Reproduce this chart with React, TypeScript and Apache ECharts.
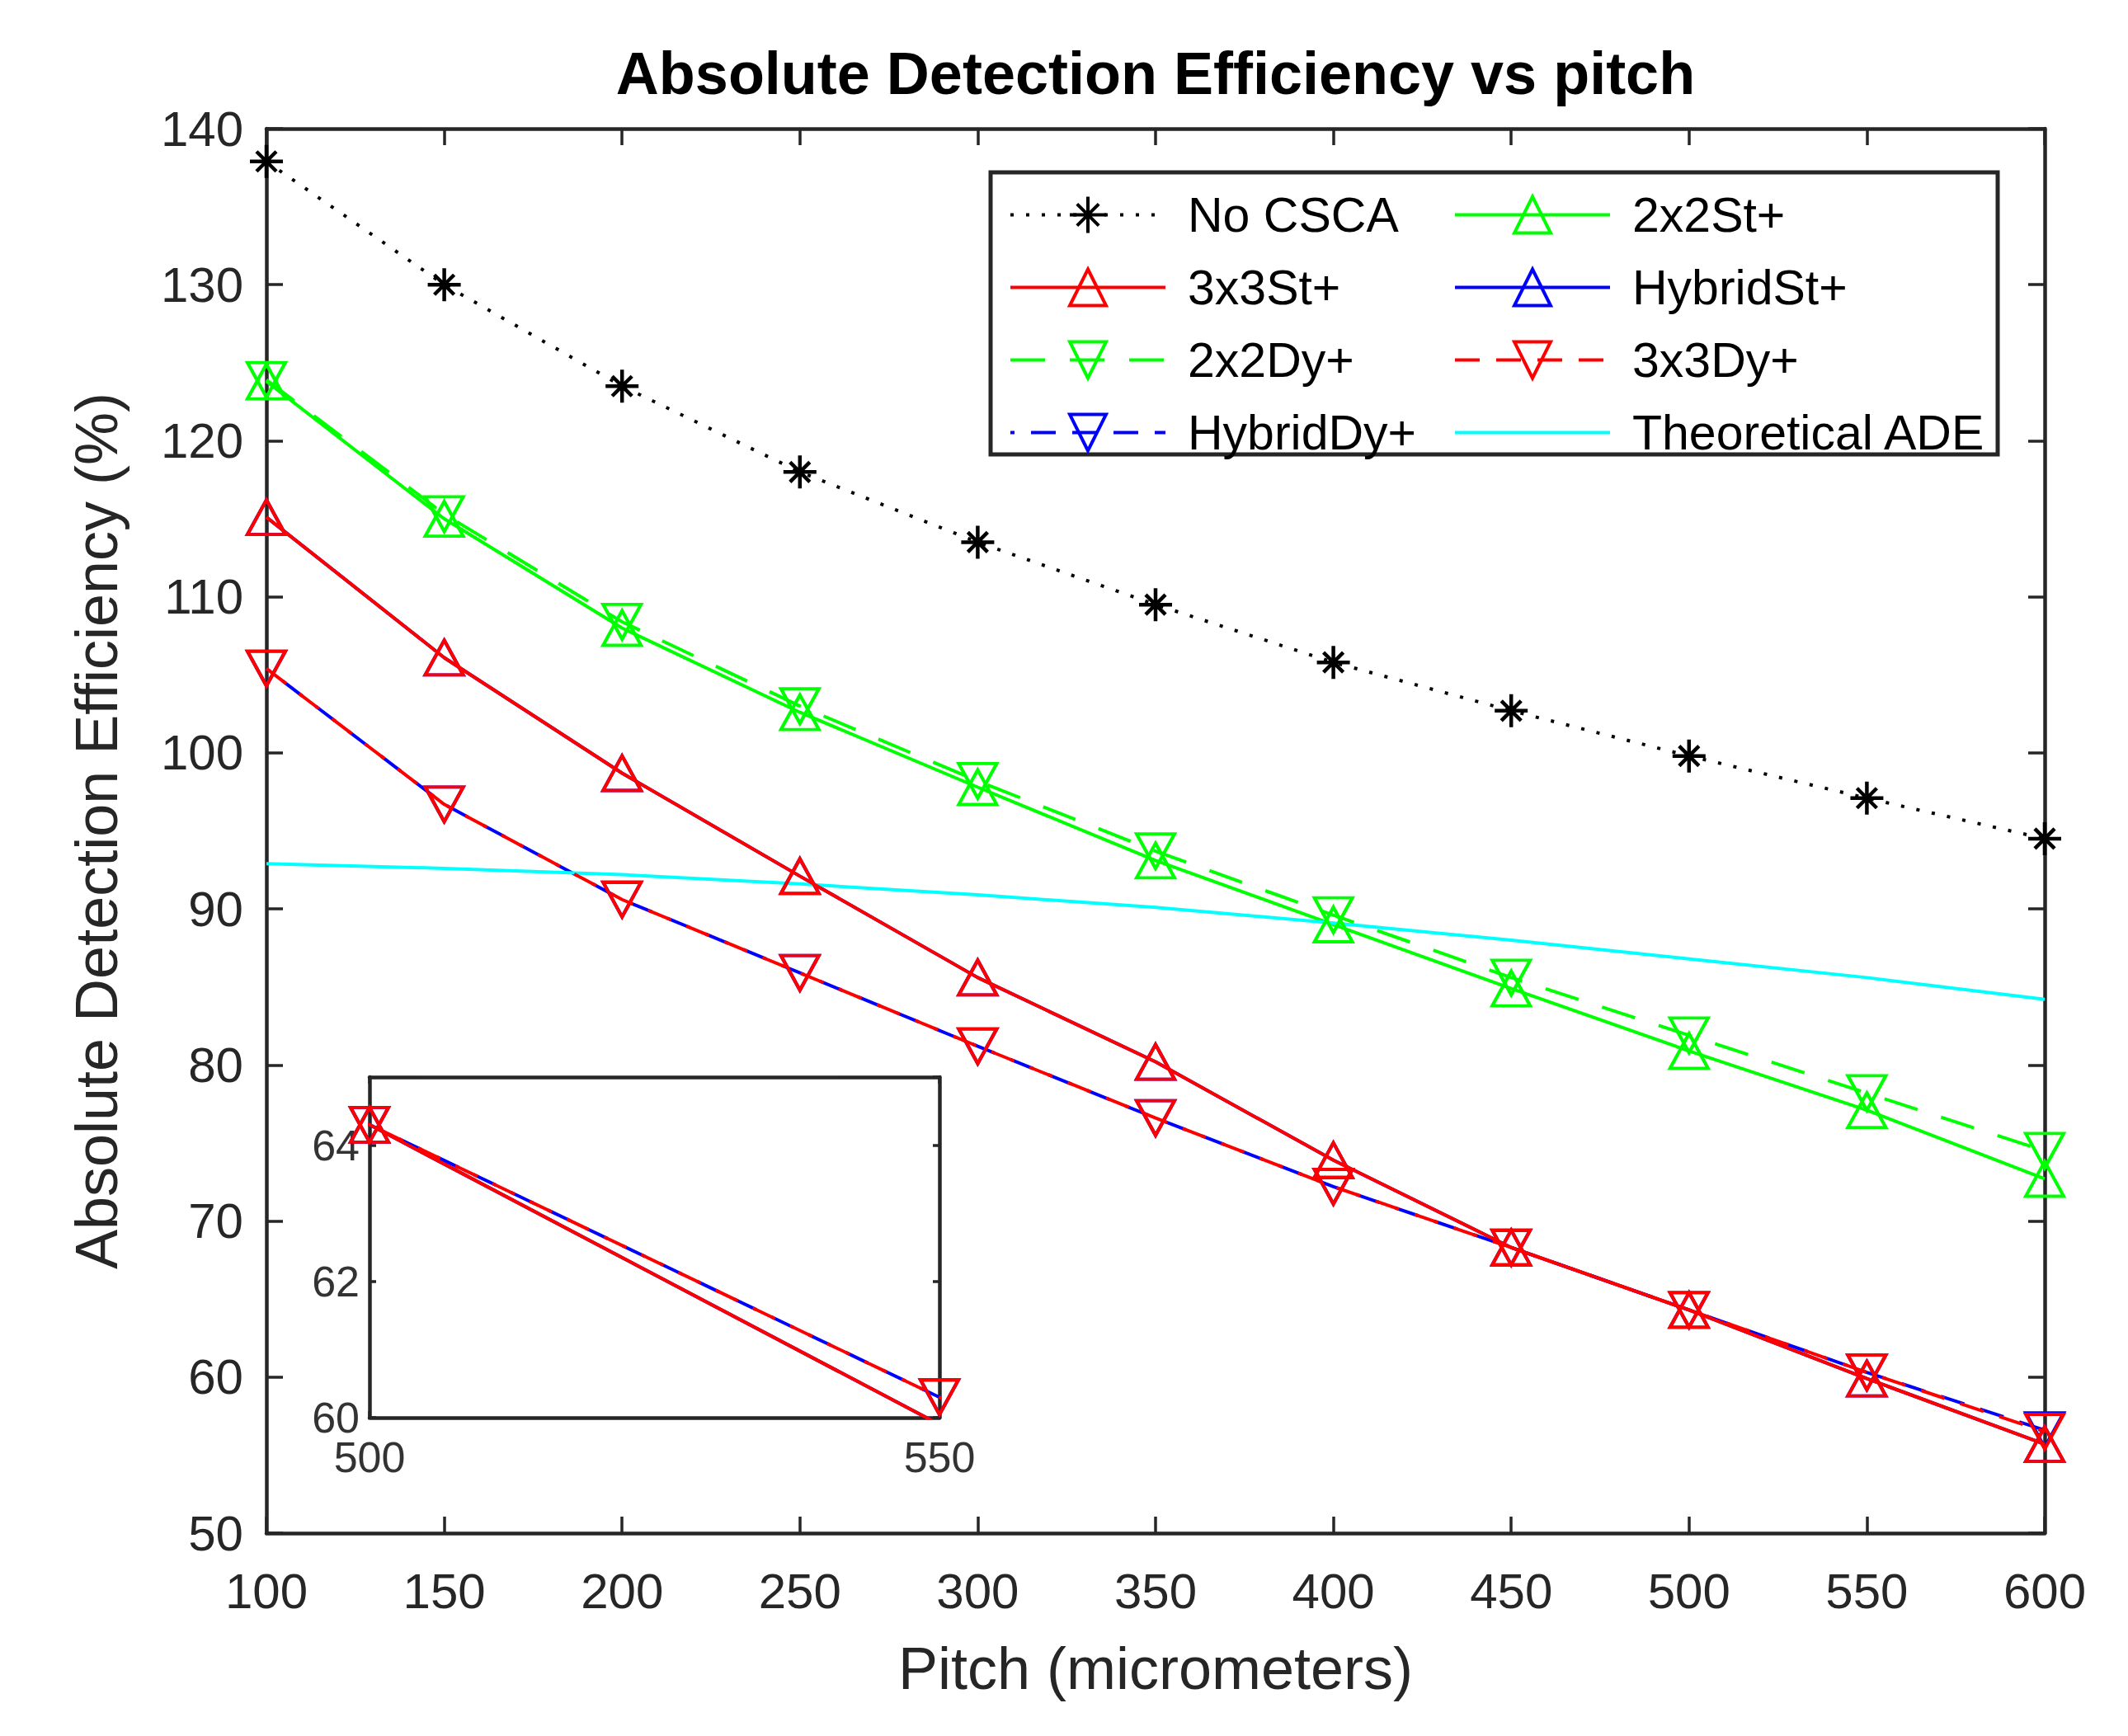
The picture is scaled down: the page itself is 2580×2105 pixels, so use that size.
import { useEffect, useRef } from 'react';
import * as echarts from 'echarts';

// pitch in micrometers
const pitch = [100, 150, 200, 250, 300, 350, 400, 450, 500, 550, 600];

// absolute detection efficiency (%)
const noCsca = [137.9, 130.0, 123.5, 118.0, 113.5, 109.5, 105.8, 102.7, 99.8, 97.1, 94.5];
const st2x2 = [123.8, 115.0, 108.0, 102.6, 97.8, 93.1, 89.0, 84.9, 80.9, 77.1, 72.7];
const st3x3 = [115.1, 106.1, 98.7, 92.1, 85.6, 80.2, 73.9, 68.3, 64.3, 59.9, 55.7];
const stHybrid = [115.1, 106.1, 98.7, 92.1, 85.6, 80.2, 73.9, 68.3, 64.3, 59.9, 55.7];
const dy2x2 = [123.9, 115.3, 108.4, 103.0, 98.2, 93.7, 89.6, 85.6, 81.9, 78.2, 74.5];
const dy3x3 = [105.4, 96.7, 90.6, 85.9, 81.2, 76.6, 72.2, 68.3, 64.3, 60.3, 56.5];
const dyHybrid = [105.4, 96.7, 90.6, 85.9, 81.2, 76.6, 72.2, 68.3, 64.3, 60.3, 56.6];
const theoretical = [92.9, 92.6, 92.2, 91.6, 90.9, 90.1, 89.1, 88.0, 86.8, 85.6, 84.2];

const legendLeft = ['No CSCA', '3x3St+', '2x2Dy+', 'HybridDy+'];
const legendRight = ['2x2St+', 'HybridSt+', '3x3Dy+', 'Theoretical ADE'];

const font = 'Liberation Sans, Arial, sans-serif';
const axisColor = '#262626';
const star = 'path://M10,0 L10,20 M0,10 L20,10 M4,4 L16,16 M4,16 L16,4';
const longDash = [42, 30];
const shortDash = [30, 20];

const pts = (ys: number[]) => pitch.map((p, i) => [p, ys[i]]);

const line = (
  name: string,
  ys: number[],
  color: string,
  type: any,
  symbol: string,
  rotate: number,
  z: number,
  inset = false,
  dashOffset = 0
) => ({
  name,
  type: 'line',
  data: pts(ys),
  xAxisIndex: inset ? 2 : 0,
  yAxisIndex: inset ? 2 : 0,
  clip: true,
  z,
  symbol,
  symbolRotate: rotate,
  symbolSize: symbol === 'none' ? 0 : symbol === star ? 40 : [46, 42],
  showSymbol: symbol !== 'none',
  itemStyle: {
    color: symbol === 'none' ? color : 'transparent',
    borderColor: color,
    borderWidth: symbol === star ? 4.5 : 4,
  },
  lineStyle: { color, width: 4, type, dashOffset },
  emphasis: { disabled: true },
});

const App = () => {
  const el = useRef<HTMLDivElement>(null);

  useEffect(() => {
    document.body.style.margin = '0';
    if (!el.current) return;
    const chart = echarts.init(el.current, undefined, { renderer: 'svg' });

    const boxAxis = (grid: number, pos: string, min: number, max: number, interval: number, tick: number) => ({
      type: 'value',
      gridIndex: grid,
      position: pos,
      min,
      max,
      interval,
      axisLine: { show: true, onZero: false, lineStyle: { color: axisColor, width: 4.5 } },
      axisTick: { show: true, inside: true, length: tick, lineStyle: { color: axisColor, width: 3.5 } },
      axisLabel: { show: false },
      splitLine: { show: false },
    });

    const legendCommon = {
      orient: 'vertical',
      itemWidth: 188,
      itemHeight: 55,
      itemGap: 29,
      selectedMode: false,
      itemStyle: { borderWidth: 4 },
      lineStyle: { width: 4 },
      textStyle: { fontFamily: font, fontSize: 59, color: '#000', lineHeight: 55, padding: [0, 0, 0, 22] },
      z: 6,
    };

    chart.setOption({
      animation: false,
      backgroundColor: '#fff',
      grid: [
        { left: 323, right: 101, top: 156, bottom: 246 },
        { left: 448, top: 1306, width: 691, height: 413, show: true, backgroundColor: '#fff', borderWidth: 0 },
      ],
      xAxis: [
        {
          ...boxAxis(0, 'bottom', 100, 600, 50, 20),
          axisLabel: { show: true, fontFamily: font, fontSize: 60, color: axisColor, margin: 40 },
          name: 'Pitch (micrometers)',
          nameLocation: 'middle',
          nameGap: 128,
          nameTextStyle: { fontFamily: font, fontSize: 72, color: axisColor },
        },
        boxAxis(0, 'top', 100, 600, 50, 20),
        {
          ...boxAxis(1, 'bottom', 500, 550, 50, 8),
          axisLabel: { show: true, fontFamily: font, fontSize: 52, color: '#333', margin: 22 },
        },
        boxAxis(1, 'top', 500, 550, 50, 8),
      ],
      yAxis: [
        {
          ...boxAxis(0, 'left', 50, 140, 10, 20),
          axisLabel: { show: true, fontFamily: font, fontSize: 60, color: axisColor, margin: 28 },
          name: 'Absolute Detection Efficiency (%)',
          nameLocation: 'middle',
          nameGap: 170,
          nameTextStyle: { fontFamily: font, fontSize: 72, color: axisColor },
        },
        boxAxis(0, 'right', 50, 140, 10, 20),
        {
          ...boxAxis(1, 'left', 60, 65, 2, 8),
          axisLabel: { show: true, fontFamily: font, fontSize: 52, color: '#333', margin: 12, showMaxLabel: false },
        },
        boxAxis(1, 'right', 60, 65, 2, 8),
      ],
      legend: [
        { ...legendCommon, left: 1218, top: 226, data: legendLeft },
        {
          ...legendCommon,
          left: 1757,
          top: 226,
          data: legendRight.map((n) =>
            n === 'Theoretical ADE'
              ? { name: n, icon: 'path://M0,0 L100,0 L100,2 L0,2 Z', itemStyle: { borderWidth: 0 } }
              : n
          ),
        },
      ],
      graphic: [
        {
          type: 'rect',
          z: 5,
          shape: { x: 1201, y: 209, width: 1221, height: 342 },
          style: { fill: '#fff', stroke: axisColor, lineWidth: 5 },
        },
        {
          type: 'text',
          x: 1401,
          y: 89,
          style: {
            text: 'Absolute Detection Efficiency vs pitch',
            font: `bold 72px ${font}`,
            fill: '#000',
            textAlign: 'center',
            textVerticalAlign: 'middle',
          },
        },
      ],
      series: [
        line('No CSCA', noCsca, '#000', [4, 15], star, 0, 2),
        line('2x2St+', st2x2, '#00ff00', 'solid', 'triangle', 0, 2),
        line('HybridSt+', stHybrid, '#0000ff', 'solid', 'triangle', 0, 2),
        line('3x3St+', st3x3, '#ff0000', 'solid', 'triangle', 0, 3),
        line('2x2Dy+', dy2x2, '#00ff00', longDash, 'triangle', 180, 2),
        line('HybridDy+', dyHybrid, '#0000ff', shortDash, 'triangle', 180, 2, false, 25),
        line('3x3Dy+', dy3x3, '#ff0000', shortDash, 'triangle', 180, 3),
        line('Theoretical ADE', theoretical, '#00ffff', 'solid', 'none', 0, 2),
        line('HybridSt+', stHybrid, '#0000ff', 'solid', 'triangle', 0, 2, true),
        line('3x3St+', st3x3, '#ff0000', 'solid', 'triangle', 0, 3, true),
        line('HybridDy+', dyHybrid, '#0000ff', shortDash, 'triangle', 180, 2, true, 25),
        line('3x3Dy+', dy3x3, '#ff0000', shortDash, 'triangle', 180, 3, true),
      ],
    });

    return () => {
      chart.dispose();
    };
  }, []);

  return <div ref={el} style={{ width: 2580, height: 2105 }} />;
};

export default App;
